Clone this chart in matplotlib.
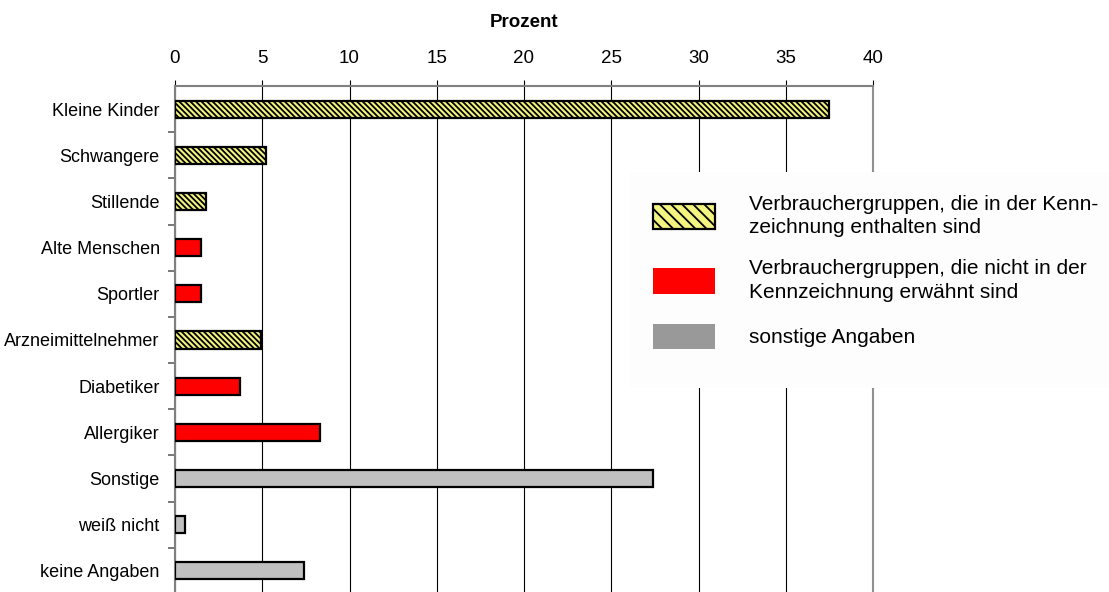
import matplotlib.pyplot as plt
from matplotlib.patches import Patch, Rectangle
from matplotlib.ticker import MultipleLocator

plt.rcParams['font.family'] = ['Liberation Sans', 'DejaVu Sans']
plt.rcParams['hatch.linewidth'] = 1.3

# Anteil der Nennungen (Prozent)
gruppen = ['Kleine Kinder', 'Schwangere', 'Stillende', 'Alte Menschen', 'Sportler',
           'Arzneimittelnehmer', 'Diabetiker', 'Allergiker', 'Sonstige',
           'weiß nicht', 'keine Angaben']
prozent = [37.5, 5.2, 1.8, 1.5, 1.5, 4.9, 3.7, 8.3, 27.4, 0.6, 7.4]
# 0 = in der Kennzeichnung enthalten, 1 = nicht erwähnt, 2 = sonstige Angaben
kategorie = [0, 0, 0, 1, 1, 0, 1, 1, 2, 2, 2]

legende = ['Verbrauchergruppen, die in der Kenn-\nzeichnung enthalten sind',
           'Verbrauchergruppen, die nicht in der\nKennzeichnung erwähnt sind',
           'sonstige Angaben']

gelb = '#f4f480'
rot = '#ff0000'
grau = '#c0c0c0'

fig = plt.figure(figsize=(11.09, 5.92), dpi=100)
ax = fig.add_axes([175 / 1109, -2 / 592, 698 / 1109, 508 / 592])

pos = list(range(len(gruppen)))
for y, wert, kat in zip(pos, prozent, kategorie):
    if kat == 0:
        ax.barh(y, wert, height=0.37, color=gelb, edgecolor='black',
                linewidth=1.6, hatch='\\' * 6, zorder=3)
    elif kat == 1:
        ax.barh(y, wert, height=0.37, color=rot, edgecolor='black',
                linewidth=1.6, zorder=3)
    else:
        ax.barh(y, wert, height=0.37, color=grau, edgecolor='black',
                linewidth=1.6, zorder=3)

ax.set_xlim(0, 40)
ax.set_ylim(len(gruppen) - 0.5, -0.5)

# x-Achse oben
ax.xaxis.set_ticks_position('top')
ax.xaxis.set_label_position('top')
ax.xaxis.set_major_locator(MultipleLocator(5))
ax.tick_params(axis='x', direction='out', length=4, width=0.8, pad=10,
               labelsize=13.5, color='black')
ax.set_xlabel('Prozent', fontsize=13.5, fontweight='bold', labelpad=16)
ax.grid(axis='x', color='black', linewidth=0.8)
ax.set_axisbelow(True)

# y-Achse: Striche zwischen den Kategorien
ax.set_yticks(pos)
ax.set_yticklabels(gruppen, fontsize=13)
ax.set_yticks([p + 0.5 for p in pos[:-1]], minor=True)
ax.tick_params(axis='y', which='major', length=0, pad=11)
ax.tick_params(axis='y', which='minor', length=5, width=1.2, color='#606060')

ax.spines['bottom'].set_visible(False)
ax.spines['top'].set_color('#808080')
ax.spines['top'].set_linewidth(1.5)
ax.spines['left'].set_color('#808080')
ax.spines['left'].set_linewidth(1.5)
ax.spines['right'].set_color('#909090')
ax.spines['right'].set_linewidth(1.5)

# heller Hintergrund der Legende über dem Gitter
fig.patches.append(Rectangle((630 / 1109, 1 - 388 / 592), 479 / 1109, 216 / 592,
                             transform=fig.transFigure, facecolor='#fdfdfd',
                             edgecolor='none', zorder=5))

handles = [
    Patch(facecolor=gelb, edgecolor='black', linewidth=1.6, hatch='\\' * 3),
    Patch(facecolor=rot, edgecolor='none'),
    Patch(facecolor='#999999', edgecolor='none'),
]
leg = fig.legend(handles, legende, loc='upper left',
                 bbox_to_anchor=(630 / 1109, 1 - 172 / 592),
                 fontsize=15, frameon=False, handlelength=3.0,
                 handleheight=1.5, handletextpad=1.6, labelspacing=1.05,
                 borderpad=1.1, borderaxespad=0)
for t in leg.get_texts():
    t.set_linespacing(1.3)
leg.set_zorder(10)

fig.savefig('out.png', dpi=100)
